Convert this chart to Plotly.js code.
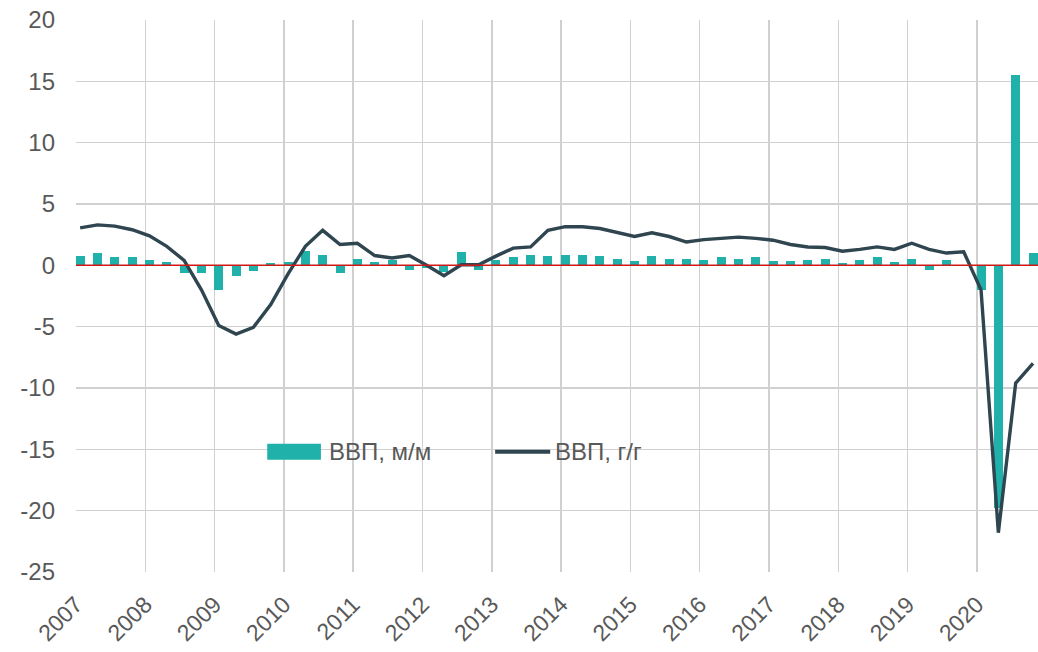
<!DOCTYPE html>
<html>
<head>
<meta charset="utf-8">
<script src="https://cdn.plot.ly/plotly-3.0.1.min.js"></script>
<style>
html,body{margin:0;padding:0;background:#fff;}
#chart{width:1038px;height:652px;}
</style>
</head>
<body>
<div id="chart"></div>
<script>
// Quarters 2007 Q1 .. 2020 Q4
const years = [2007,2008,2009,2010,2011,2012,2013,2014,2015,2016,2017,2018,2019,2020];
const quarterLabels = [];
years.forEach(y => { for (let q = 1; q <= 4; q++) quarterLabels.push(y + ' Q' + q); });

// ВВП, м/м (quarter on quarter, %)
const gdpQoQ = [
  0.8, 1.0, 0.7, 0.7,
  0.4, 0.3, -0.6, -0.6,
  -2.0, -0.85, -0.5, 0.2,
  0.3, 1.2, 0.85, -0.6,
  0.55, 0.3, 0.4, -0.35,
  -0.25, -0.55, 1.1, -0.4,
  0.4, 0.65, 0.85, 0.75,
  0.85, 0.85, 0.75, 0.55,
  0.35, 0.75, 0.55, 0.55,
  0.45, 0.65, 0.55, 0.65,
  0.35, 0.35, 0.45, 0.55,
  0.15, 0.45, 0.65, 0.25,
  0.55, -0.35, 0.4, 0.05,
  -2.0, -19.8, 15.5, 1.0
];

// ВВП, г/г (year on year, %)
const gdpYoY = [
  3.05, 3.3, 3.2, 2.9,
  2.4, 1.55, 0.4, -2.0,
  -4.9, -5.6, -5.05, -3.2,
  -0.7, 1.55, 2.85, 1.7,
  1.8, 0.8, 0.6, 0.8,
  0.0, -0.85, 0.05, 0.05,
  0.75, 1.4, 1.5, 2.85,
  3.15, 3.15, 3.0, 2.7,
  2.35, 2.65, 2.35, 1.9,
  2.1, 2.2, 2.3, 2.2,
  2.05, 1.7, 1.5, 1.45,
  1.15, 1.3, 1.5, 1.3,
  1.8, 1.3, 1.0, 1.1,
  -2.0, -21.8, -9.6, -8.0
];

const yTickVals = [20, 15, 10, 5, 0, -5, -10, -15, -20, -25];
const yTickText = ['20', '15', '10', '5', '0', '-5', '-10', '-15', '-20', '-25'];
const xTickText = years.map(String);

const seriesNames = ['ВВП, м/м', 'ВВП, г/г'];

// map each quarter label to a position on the numeric year axis
const xPos = quarterLabels.map(s => {
  const [y, q] = s.split(' Q');
  return Number(y) + (Number(q) - 1) / 4 + 0.06;
});

const barColor = '#20b2aa';
const lineColor = '#2f4550';
const textColor = '#595959';
const fontFamily = '"Liberation Sans", Arial, sans-serif';

const traces = [
  {
    type: 'bar', name: seriesNames[0], x: xPos, y: gdpQoQ,
    width: 0.13, marker: {color: barColor, line: {width: 0}},
    showlegend: false, hoverinfo: 'x+y'
  },
  {
    type: 'scatter', mode: 'lines', name: seriesNames[1], x: xPos, y: gdpYoY,
    line: {color: lineColor, width: 3.4}, showlegend: false
  }
];

// legend box (drawn as decoration in paper coordinates)
const legY = 0.218;
const layout = {
  width: 1038, height: 652,
  margin: {l: 76, r: 0, t: 20, b: 80},
  paper_bgcolor: '#fff', plot_bgcolor: '#fff',
  font: {family: fontFamily, color: textColor, size: 24},
  bargap: 0,
  xaxis: {
    range: [2007, 2020.882],
    tickvals: years, ticktext: xTickText,
    tickangle: -45,
    ticks: 'outside', ticklen: 9, tickcolor: 'rgba(0,0,0,0)',
    showgrid: true, gridcolor: '#d0d0d0', gridwidth: 1.5,
    zeroline: false, showline: false,
    tickfont: {size: 23, color: textColor, family: fontFamily},
    fixedrange: true
  },
  yaxis: {
    range: [-25, 20],
    tickvals: yTickVals, ticktext: yTickText,
    showgrid: true, gridcolor: '#d0d0d0', gridwidth: 1.5,
    zeroline: false, showline: false, ticks: '',
    ticklabelstandoff: 20,
    tickfont: {size: 24, color: textColor, family: fontFamily},
    fixedrange: true
  },
  shapes: [
    {type: 'line', xref: 'paper', yref: 'y', x0: 0, x1: 1, y0: 0, y1: 0,
     line: {color: '#d01818', width: 1.5}, layer: 'above'},
    {type: 'rect', xref: 'paper', yref: 'paper', x0: 0.1988, x1: 0.2546, y0: legY - 0.0145, y1: legY + 0.0145,
     fillcolor: barColor, line: {width: 0}},
    {type: 'line', xref: 'paper', yref: 'paper', x0: 0.4357, x1: 0.4929, y0: legY, y1: legY,
     line: {color: lineColor, width: 4}}
  ],
  annotations: [
    {xref: 'paper', yref: 'paper', x: 0.2611, y: legY, xanchor: 'left', yanchor: 'middle',
     text: seriesNames[0], showarrow: false, font: {size: 24, color: textColor, family: fontFamily}},
    {xref: 'paper', yref: 'paper', x: 0.4961, y: legY, xanchor: 'left', yanchor: 'middle',
     text: seriesNames[1], showarrow: false, font: {size: 24, color: textColor, family: fontFamily}}
  ]
};

Plotly.newPlot('chart', traces, layout, {displayModeBar: false, staticPlot: true});
</script>
</body>
</html>
